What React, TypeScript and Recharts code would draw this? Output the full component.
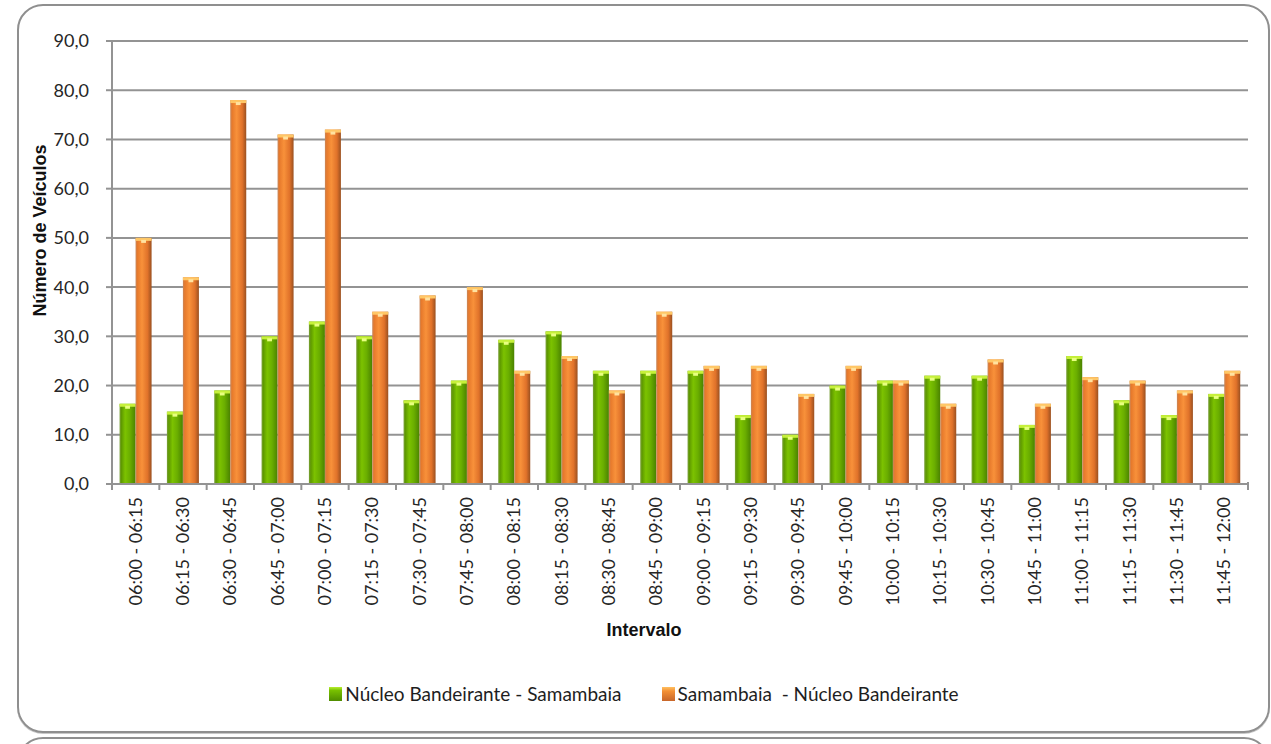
import React from 'react';
import { BarChart, Bar, XAxis, YAxis, CartesianGrid, Legend, Label } from 'recharts';

const categories = [
  '06:00 - 06:15', '06:15 - 06:30', '06:30 - 06:45', '06:45 - 07:00',
  '07:00 - 07:15', '07:15 - 07:30', '07:30 - 07:45', '07:45 - 08:00',
  '08:00 - 08:15', '08:15 - 08:30', '08:30 - 08:45', '08:45 - 09:00',
  '09:00 - 09:15', '09:15 - 09:30', '09:30 - 09:45', '09:45 - 10:00',
  '10:00 - 10:15', '10:15 - 10:30', '10:30 - 10:45', '10:45 - 11:00',
  '11:00 - 11:15', '11:15 - 11:30', '11:30 - 11:45', '11:45 - 12:00',
];

const nucleoSamambaia = [16.3, 14.7, 19, 30, 33, 30, 17, 21, 29.3, 31, 23, 23, 23, 14, 10, 20, 21, 22, 22, 12, 26, 17, 14, 18.3];
const samambaiaNucleo = [50, 42, 78, 71, 72, 35, 38.3, 40, 23, 26, 19, 35, 24, 24, 18.3, 24, 21, 16.3, 25.3, 16.3, 21.7, 21, 19, 23];

const seriesNames = ['Núcleo Bandeirante - Samambaia', 'Samambaia  - Núcleo Bandeirante'];
const yTicks = [0, 10, 20, 30, 40, 50, 60, 70, 80, 90];

const data = categories.map((c, i) => ({ intervalo: c, ns: nucleoSamambaia[i], sn: samambaiaNucleo[i] }));

const W = 1271;
const H = 744;
const margin = { top: 41, right: 23, bottom: 100, left: 20 };
const Y_AXIS_W = 92;
const PLOT_W = W - margin.left - margin.right - Y_AXIS_W;
const BAND = PLOT_W / categories.length;

const tickFont = 'Lato, "Liberation Sans", sans-serif';
const titleFont = '"Liberation Sans", Arial, sans-serif';
const gridColor = '#939393';

const CylBar = (props: any) => {
  const { x, y, width, height, kind } = props;
  if (!height || height <= 0) return null;
  const capFill = kind === 'g' ? '#c6f03a' : '#ffc766';
  const capDot = kind === 'g' ? '#e8ff80' : '#ffe2a0';
  return (
    <g>
      <rect x={x} y={y} width={width} height={height} fill={`url(#grad-${kind})`} />
      <rect x={x} y={y} width={width} height={3} fill={capFill} />
      <rect x={x + width * 0.35} y={y + 2} width={width * 0.3} height={3} fill={capDot} />
    </g>
  );
};

const XTick = (props: any) => {
  const { x, y, payload, index } = props;
  const half = BAND / 2;
  return (
    <g>
      <line x1={x - half} x2={x - half} y1={y} y2={y + 6} stroke={gridColor} strokeWidth={2} />
      {index === categories.length - 1 && (
        <line x1={x + half} x2={x + half} y1={y - 2} y2={y + 6} stroke={gridColor} strokeWidth={2} />
      )}
      <text
        transform={`translate(${x + 6},${y + 13}) rotate(-90)`}
        textAnchor="end"
        fontFamily={tickFont}
        fontSize={18}
        fill="#262626"
      >
        {payload.value}
      </text>
    </g>
  );
};

const LegendBox = () => (
  <div style={{ display: 'flex', justifyContent: 'center', alignItems: 'center', gap: 40, fontFamily: tickFont, fontSize: 19, color: '#1e1e1e', whiteSpace: 'pre' }}>
    {seriesNames.map((n, i) => (
      <span key={n} style={{ display: 'flex', alignItems: 'center', gap: 3 }}>
        <span style={{
          width: 13, height: 14, display: 'inline-block',
          background: i === 0
            ? 'linear-gradient(to bottom, #b8ee30 0%, #78c000 25%, #4f8c00 100%)'
            : 'linear-gradient(to bottom, #ffc060 0%, #f39035 30%, #c8662a 100%)',
        }} />
        {n}
      </span>
    ))}
  </div>
);

export default function App() {
  return (
    <div style={{ position: 'absolute', left: 0, top: 0, width: W, height: H, overflow: 'hidden', background: '#fff' }}>
      <div style={{ position: 'absolute', left: 17, top: 4, width: 1249, height: 725, border: '2px solid #8f8f8f', borderRadius: 26, boxShadow: '0 1px 0 #c8c8c8' }} />
      <div style={{ position: 'absolute', left: 17, top: 737, width: 1249, height: 100, border: '2px solid #8f8f8f', borderRadius: 26 }} />
      <div style={{ position: 'absolute', left: 0, top: 0 }}>
        <BarChart width={W} height={H} data={data} margin={margin} barCategoryGap="16%" barGap={0}>
          <defs>
            <linearGradient id="grad-g" x1="0" y1="0" x2="1" y2="0">
              <stop offset="0%" stopColor="#7a9f3a" />
              <stop offset="12%" stopColor="#5f9a00" />
              <stop offset="35%" stopColor="#7cc200" />
              <stop offset="65%" stopColor="#6aae00" />
              <stop offset="100%" stopColor="#4a8200" />
            </linearGradient>
            <linearGradient id="grad-o" x1="0" y1="0" x2="1" y2="0">
              <stop offset="0%" stopColor="#c7865a" />
              <stop offset="12%" stopColor="#e77a2c" />
              <stop offset="40%" stopColor="#f8913a" />
              <stop offset="75%" stopColor="#e0722a" />
              <stop offset="100%" stopColor="#9a5020" />
            </linearGradient>
          </defs>
          <CartesianGrid vertical={false} stroke={gridColor} strokeWidth={2} />
          <XAxis
            dataKey="intervalo"
            interval={0}
            height={160}
            tickLine={false}
            tickSize={0}
            tickMargin={0}
            tick={<XTick />}
            axisLine={{ stroke: gridColor, strokeWidth: 2 }}
          >
            <Label
              value="Intervalo"
              content={(p: any) => {
                const vb = p.viewBox;
                return (
                  <text x={vb.x + vb.width / 2 - 36} y={vb.y + 152} textAnchor="middle" fontFamily={titleFont} fontWeight="bold" fontSize={18} fill="#111">
                    Intervalo
                  </text>
                );
              }}
            />
          </XAxis>
          <YAxis
            width={Y_AXIS_W}
            domain={[0, 90]}
            ticks={yTicks}
            interval={0}
            tickFormatter={(v: number) => v.toFixed(1).replace('.', ',')}
            tickSize={6}
            tickMargin={17}
            tickLine={{ stroke: gridColor, strokeWidth: 2 }}
            axisLine={{ stroke: gridColor, strokeWidth: 2 }}
            tick={{ fontFamily: tickFont, fontSize: 18, fill: '#262626' }}
          >
            <Label
              value="Número de Veículos"
              content={(p: any) => {
                const vb = p.viewBox;
                const cx = vb.x + 26;
                const cy = vb.y + vb.height / 2 - 32;
                return (
                  <text transform={`translate(${cx},${cy}) rotate(-90)`} textAnchor="middle" fontFamily={titleFont} fontWeight="bold" fontSize={18} fill="#111">
                    Número de Veículos
                  </text>
                );
              }}
            />
          </YAxis>
          <Legend
            verticalAlign="middle"
            align="center"
            wrapperStyle={{ top: 682, left: 18, width: 1252, height: 24 }}
            content={() => <LegendBox />}
          />
          <Bar dataKey="ns" name={seriesNames[0]} isAnimationActive={false} shape={(p: any) => <CylBar {...p} kind="g" />} />
          <Bar dataKey="sn" name={seriesNames[1]} isAnimationActive={false} shape={(p: any) => <CylBar {...p} kind="o" />} />
        </BarChart>
      </div>
    </div>
  );
}
